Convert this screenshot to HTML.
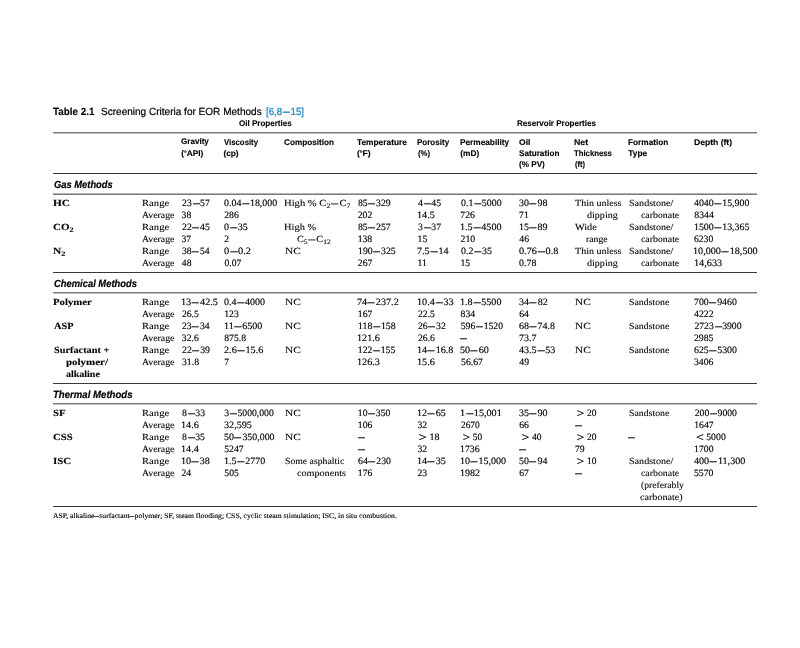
<!DOCTYPE html>
<html lang="en">
<head>
<meta charset="utf-8">
<title>Table 2.1 Screening Criteria for EOR Methods</title>
<style>
html,body{margin:0;padding:0;background:#fff;}
body{width:800px;height:648px;position:relative;overflow:hidden;}
#tbl{position:absolute;left:0;top:0;width:800px;height:648px;}
.x{text-rendering:geometricPrecision;position:absolute;white-space:nowrap;line-height:1;transform-origin:0 0;color:#000;}
.b,.n,.bb,.f{font-family:"Liberation Serif",serif;}
.bb{font-weight:bold;}
.h,.g,.t,.tb,.s{font-family:"Liberation Sans",sans-serif;}
.h,.g{font-weight:bold;}
.tb{font-weight:bold;}
.s{font-weight:bold;font-style:italic;}
.ref{color:#1585bd;}
.d{display:inline-block;width:0.86em;text-align:center;}
.d>i{display:inline-block;font-style:normal;font-weight:bold;transform:scaleX(1.36);}
sub{font-size:0.74em;vertical-align:baseline;position:relative;top:0.22em;line-height:0;}
.ln{position:absolute;}
.n{-webkit-text-stroke:0.15px currentColor;}
.t{-webkit-text-stroke:0.22px currentColor;}
.f{-webkit-text-stroke:0.14px currentColor;}
.f .d{width:0.64em;}
.f .d>i{transform:scaleX(1.2);}
.gt{display:inline-block;width:0.8em;text-align:center;}
.gt>i{display:inline-block;font-style:normal;transform:translateY(0.07em) scale(1.45,1.2);transform-origin:50% 72%;}
.b{-webkit-text-stroke:0.1px currentColor;}
.s{-webkit-text-stroke:0.2px currentColor;}
.h,.g,.tb{-webkit-text-stroke:0.12px currentColor;}
.bb{-webkit-text-stroke:0.1px currentColor;}
.dg{font-size:0.8em;position:relative;top:-0.12em;}
</style>
</head>
<body>
<div id="tbl">
<div class="ln" style="left:53px;width:704px;top:132px;height:1px;background:#7a7a7a"></div>
<div class="ln" style="left:53px;width:704px;top:133px;height:1px;background:#c4c4c4"></div>
<div class="ln" style="left:53px;width:704px;top:173px;height:1px;background:#383838"></div>
<div class="ln" style="left:53px;width:704px;top:193px;height:1px;background:#b5b5b5"></div>
<div class="ln" style="left:53px;width:704px;top:194px;height:1px;background:#7a7a7a"></div>
<div class="ln" style="left:53px;width:704px;top:272px;height:1px;background:#383838"></div>
<div class="ln" style="left:53px;width:704px;top:292px;height:1px;background:#7a7a7a"></div>
<div class="ln" style="left:53px;width:704px;top:293px;height:1px;background:#c4c4c4"></div>
<div class="ln" style="left:53px;width:704px;top:383px;height:1px;background:#383838"></div>
<div class="ln" style="left:53px;width:704px;top:403px;height:1px;background:#7a7a7a"></div>
<div class="ln" style="left:53px;width:704px;top:404px;height:1px;background:#c4c4c4"></div>
<div class="ln" style="left:53px;width:704px;top:506px;height:1px;background:#383838"></div>
<span class="x tb" style="left:52.70px;top:108px;font-size:10.4px;transform:scaleX(0.9509);">Table 2.1</span>
<span class="x t" style="left:100.80px;top:108px;font-size:10.4px;transform:scaleX(0.9659);">Screening Criteria for EOR Methods</span>
<span class="x t ref" style="left:265.71px;top:108px;font-size:10.4px;transform:scaleX(0.9322);">[6,8<span class="d"><i>–</i></span>15]</span>
<span class="x g" style="left:238.53px;top:119px;font-size:8.3px;transform:scaleX(0.9677);">Oil Properties</span>
<span class="x g" style="left:516.52px;top:119px;font-size:8.3px;transform:scaleX(0.9660);">Reservoir Properties</span>
<span class="x h" style="left:180.73px;top:137px;font-size:8.3px;transform:scaleX(0.9732);">Gravity</span>
<span class="x h" style="left:181.24px;top:149px;font-size:8.3px;">(<span class="dg">°</span>API)</span>
<span class="x h" style="left:223.76px;top:138px;font-size:8.3px;transform:scaleX(0.9383);">Viscosity</span>
<span class="x h" style="left:223.39px;top:149px;font-size:8.3px;">(cp)</span>
<span class="x h" style="left:283.67px;top:138px;font-size:8.3px;transform:scaleX(0.9866);">Composition</span>
<span class="x h" style="left:356.60px;top:138px;font-size:8.3px;transform:scaleX(1.0047);">Temperature</span>
<span class="x h" style="left:356.51px;top:149px;font-size:8.3px;transform:scaleX(1.0357);">(<span class="dg">°</span>F)</span>
<span class="x h" style="left:416.54px;top:138px;font-size:8.3px;transform:scaleX(0.9667);">Porosity</span>
<span class="x h" style="left:417.71px;top:149px;font-size:8.3px;transform:scaleX(0.9318);">(%)</span>
<span class="x h" style="left:459.71px;top:138px;font-size:8.3px;transform:scaleX(0.9959);">Permeability</span>
<span class="x h" style="left:460.27px;top:149px;font-size:8.3px;">(mD)</span>
<span class="x h" style="left:518.69px;top:138px;font-size:8.3px;transform:scaleX(1.0320);">Oil</span>
<span class="x h" style="left:518.70px;top:149px;font-size:8.3px;transform:scaleX(0.9839);">Saturation</span>
<span class="x h" style="left:518.56px;top:160px;font-size:8.3px;transform:scaleX(0.9824);">(% PV)</span>
<span class="x h" style="left:573.87px;top:138px;font-size:8.3px;transform:scaleX(1.0512);">Net</span>
<span class="x h" style="left:573.93px;top:149px;font-size:8.3px;transform:scaleX(0.9337);">Thickness</span>
<span class="x h" style="left:574.59px;top:160px;font-size:8.3px;transform:scaleX(0.9156);">(ft)</span>
<span class="x h" style="left:627.70px;top:138px;font-size:8.3px;transform:scaleX(0.9950);">Formation</span>
<span class="x h" style="left:628.35px;top:149px;font-size:8.3px;">Type</span>
<span class="x h" style="left:693.59px;top:138px;font-size:8.3px;transform:scaleX(1.0324);">Depth (ft)</span>
<span class="x s" style="left:53.51px;top:181px;font-size:10.4px;transform:scaleX(0.9007);">Gas Methods</span>
<span class="x s" style="left:53.54px;top:280px;font-size:10.4px;transform:scaleX(0.9040);">Chemical Methods</span>
<span class="x s" style="left:52.73px;top:391px;font-size:10.4px;transform:scaleX(0.9247);">Thermal Methods</span>
<span class="x bb" style="left:52.69px;top:200px;font-size:9.3px;transform:scaleX(1.2228);">HC</span>
<span class="x b" style="left:141.68px;top:200px;font-size:9.3px;transform:scaleX(1.1461);">Range</span>
<span class="x n" style="left:182.08px;top:199px;font-size:9.7px;">23<span class="d"><i>–</i></span>57</span>
<span class="x n" style="left:223.92px;top:199px;font-size:9.7px;transform:scaleX(1.0249);">0.04<span class="d"><i>–</i></span>18,000</span>
<span class="x b" style="left:283.52px;top:200px;font-size:9.3px;transform:scaleX(1.1395);">High % C<sub>2</sub><span class="d"><i>–</i></span>C<sub>7</sub></span>
<span class="x n" style="left:357.73px;top:199px;font-size:9.7px;transform:scaleX(1.0030);">85<span class="d"><i>–</i></span>329</span>
<span class="x n" style="left:417.51px;top:199px;font-size:9.7px;transform:scaleX(1.0081);">4<span class="d"><i>–</i></span>45</span>
<span class="x n" style="left:460.73px;top:199px;font-size:9.7px;transform:scaleX(1.0196);">0.1<span class="d"><i>–</i></span>5000</span>
<span class="x n" style="left:518.72px;top:199px;font-size:9.7px;transform:scaleX(1.0242);">30<span class="d"><i>–</i></span>98</span>
<span class="x b" style="left:574.52px;top:200px;font-size:9.3px;transform:scaleX(1.0788);">Thin unless</span>
<span class="x b" style="left:628.69px;top:200px;font-size:9.3px;transform:scaleX(1.0856);">Sandstone/</span>
<span class="x n" style="left:693.70px;top:199px;font-size:9.7px;transform:scaleX(1.0185);">4040<span class="d"><i>–</i></span>15,900</span>
<span class="x b" style="left:141.59px;top:212px;font-size:9.3px;transform:scaleX(1.0545);">Average</span>
<span class="x n" style="left:181.62px;top:211px;font-size:9.7px;">38</span>
<span class="x n" style="left:224.22px;top:211px;font-size:9.7px;">286</span>
<span class="x n" style="left:357.73px;top:211px;font-size:9.7px;">202</span>
<span class="x n" style="left:416.67px;top:211px;font-size:9.7px;transform:scaleX(1.0530);">14.5</span>
<span class="x n" style="left:460.29px;top:211px;font-size:9.7px;">726</span>
<span class="x n" style="left:519.08px;top:211px;font-size:9.7px;">71</span>
<span class="x b" style="left:586.61px;top:212px;font-size:9.3px;transform:scaleX(1.0827);">dipping</span>
<span class="x b" style="left:640.51px;top:212px;font-size:9.3px;transform:scaleX(1.0584);">carbonate</span>
<span class="x n" style="left:694.37px;top:211px;font-size:9.7px;">8344</span>
<span class="x bb" style="left:52.65px;top:224px;font-size:9.3px;transform:scaleX(1.1834);">CO<sub>2</sub></span>
<span class="x b" style="left:141.68px;top:224px;font-size:9.3px;transform:scaleX(1.1461);">Range</span>
<span class="x n" style="left:182.04px;top:223px;font-size:9.7px;">22<span class="d"><i>–</i></span>45</span>
<span class="x n" style="left:223.90px;top:223px;font-size:9.7px;transform:scaleX(1.0395);">0<span class="d"><i>–</i></span>35</span>
<span class="x b" style="left:283.50px;top:224px;font-size:9.3px;transform:scaleX(1.1206);">High %</span>
<span class="x n" style="left:357.58px;top:223px;font-size:9.7px;transform:scaleX(1.0051);">85<span class="d"><i>–</i></span>257</span>
<span class="x n" style="left:417.67px;top:223px;font-size:9.7px;transform:scaleX(1.0061);">3<span class="d"><i>–</i></span>37</span>
<span class="x n" style="left:460.03px;top:223px;font-size:9.7px;transform:scaleX(1.0416);">1.5<span class="d"><i>–</i></span>4500</span>
<span class="x n" style="left:518.50px;top:223px;font-size:9.7px;transform:scaleX(1.0328);">15<span class="d"><i>–</i></span>89</span>
<span class="x b" style="left:574.73px;top:224px;font-size:9.3px;transform:scaleX(1.1011);">Wide</span>
<span class="x b" style="left:628.69px;top:224px;font-size:9.3px;transform:scaleX(1.0856);">Sandstone/</span>
<span class="x n" style="left:693.62px;top:223px;font-size:9.7px;transform:scaleX(1.0185);">1500<span class="d"><i>–</i></span>13,365</span>
<span class="x b" style="left:141.59px;top:236px;font-size:9.3px;transform:scaleX(1.0545);">Average</span>
<span class="x n" style="left:181.45px;top:235px;font-size:9.7px;">37</span>
<span class="x n" style="left:224.22px;top:235px;font-size:9.7px;">2</span>
<span class="x b" style="left:296.66px;top:236px;font-size:9.3px;transform:scaleX(1.0991);">C<sub>5</sub><span class="d"><i>–</i></span>C<sub>12</sub></span>
<span class="x n" style="left:357.66px;top:235px;font-size:9.7px;">138</span>
<span class="x n" style="left:417.55px;top:235px;font-size:9.7px;">15</span>
<span class="x n" style="left:460.59px;top:235px;font-size:9.7px;">210</span>
<span class="x n" style="left:519.34px;top:235px;font-size:9.7px;">46</span>
<span class="x b" style="left:586.17px;top:236px;font-size:9.3px;transform:scaleX(1.0513);">range</span>
<span class="x b" style="left:640.51px;top:236px;font-size:9.3px;transform:scaleX(1.0584);">carbonate</span>
<span class="x n" style="left:693.86px;top:235px;font-size:9.7px;transform:scaleX(0.9934);">6230</span>
<span class="x bb" style="left:52.55px;top:248px;font-size:9.3px;transform:scaleX(1.2217);">N<sub>2</sub></span>
<span class="x b" style="left:141.68px;top:248px;font-size:9.3px;transform:scaleX(1.1461);">Range</span>
<span class="x n" style="left:181.62px;top:247px;font-size:9.7px;transform:scaleX(0.9935);">38<span class="d"><i>–</i></span>54</span>
<span class="x n" style="left:223.77px;top:247px;font-size:9.7px;transform:scaleX(1.0667);">0<span class="d"><i>–</i></span>0.2</span>
<span class="x b" style="left:284.60px;top:248px;font-size:9.3px;transform:scaleX(1.2226);">NC</span>
<span class="x n" style="left:357.65px;top:247px;font-size:9.7px;transform:scaleX(1.0067);">190<span class="d"><i>–</i></span>325</span>
<span class="x n" style="left:416.84px;top:247px;font-size:9.7px;transform:scaleX(1.0489);">7.5<span class="d"><i>–</i></span>14</span>
<span class="x n" style="left:460.58px;top:247px;font-size:9.7px;transform:scaleX(1.0242);">0.2<span class="d"><i>–</i></span>35</span>
<span class="x n" style="left:518.68px;top:247px;font-size:9.7px;transform:scaleX(1.0507);">0.76<span class="d"><i>–</i></span>0.8</span>
<span class="x b" style="left:574.52px;top:248px;font-size:9.3px;transform:scaleX(1.0788);">Thin unless</span>
<span class="x b" style="left:628.69px;top:248px;font-size:9.3px;transform:scaleX(1.0856);">Sandstone/</span>
<span class="x n" style="left:692.83px;top:247px;font-size:9.7px;transform:scaleX(1.0488);">10,000<span class="d"><i>–</i></span>18,500</span>
<span class="x b" style="left:141.59px;top:260px;font-size:9.3px;transform:scaleX(1.0545);">Average</span>
<span class="x n" style="left:181.86px;top:259px;font-size:9.7px;">48</span>
<span class="x n" style="left:224.42px;top:259px;font-size:9.7px;">0.07</span>
<span class="x n" style="left:357.82px;top:259px;font-size:9.7px;">267</span>
<span class="x n" style="left:417.41px;top:259px;font-size:9.7px;">11</span>
<span class="x n" style="left:460.44px;top:259px;font-size:9.7px;">15</span>
<span class="x n" style="left:518.73px;top:259px;font-size:9.7px;transform:scaleX(1.0237);">0.78</span>
<span class="x b" style="left:586.61px;top:260px;font-size:9.3px;transform:scaleX(1.0827);">dipping</span>
<span class="x b" style="left:640.51px;top:260px;font-size:9.3px;transform:scaleX(1.0584);">carbonate</span>
<span class="x n" style="left:693.64px;top:259px;font-size:9.7px;transform:scaleX(1.0569);">14,633</span>
<span class="x bb" style="left:52.73px;top:299px;font-size:9.3px;transform:scaleX(1.1580);">Polymer</span>
<span class="x b" style="left:141.68px;top:299px;font-size:9.3px;transform:scaleX(1.1461);">Range</span>
<span class="x n" style="left:180.77px;top:298px;font-size:9.7px;transform:scaleX(1.0579);">13<span class="d"><i>–</i></span>42.5</span>
<span class="x n" style="left:223.87px;top:298px;font-size:9.7px;transform:scaleX(1.0298);">0.4<span class="d"><i>–</i></span>4000</span>
<span class="x b" style="left:284.60px;top:299px;font-size:9.3px;transform:scaleX(1.2226);">NC</span>
<span class="x n" style="left:356.69px;top:298px;font-size:9.7px;transform:scaleX(1.0477);">74<span class="d"><i>–</i></span>237.2</span>
<span class="x n" style="left:416.74px;top:298px;font-size:9.7px;transform:scaleX(1.0489);">10.4<span class="d"><i>–</i></span>33</span>
<span class="x n" style="left:460.04px;top:298px;font-size:9.7px;transform:scaleX(1.0411);">1.8<span class="d"><i>–</i></span>5500</span>
<span class="x n" style="left:518.80px;top:298px;font-size:9.7px;transform:scaleX(1.0362);">34<span class="d"><i>–</i></span>82</span>
<span class="x b" style="left:574.60px;top:299px;font-size:9.3px;transform:scaleX(1.2226);">NC</span>
<span class="x b" style="left:628.66px;top:299px;font-size:9.3px;transform:scaleX(1.0558);">Sandstone</span>
<span class="x n" style="left:693.84px;top:298px;font-size:9.7px;transform:scaleX(1.0136);">700<span class="d"><i>–</i></span>9460</span>
<span class="x b" style="left:141.59px;top:311px;font-size:9.3px;transform:scaleX(1.0545);">Average</span>
<span class="x n" style="left:181.60px;top:310px;font-size:9.7px;transform:scaleX(0.9933);">26.5</span>
<span class="x n" style="left:224.24px;top:310px;font-size:9.7px;">123</span>
<span class="x n" style="left:357.79px;top:310px;font-size:9.7px;">167</span>
<span class="x n" style="left:417.57px;top:310px;font-size:9.7px;transform:scaleX(0.9936);">22.5</span>
<span class="x n" style="left:460.58px;top:310px;font-size:9.7px;">834</span>
<span class="x n" style="left:519.24px;top:310px;font-size:9.7px;">64</span>
<span class="x n" style="left:693.74px;top:310px;font-size:9.7px;transform:scaleX(1.0158);">4222</span>
<span class="x bb" style="left:53.67px;top:323px;font-size:9.3px;transform:scaleX(1.1081);">ASP</span>
<span class="x b" style="left:141.68px;top:323px;font-size:9.3px;transform:scaleX(1.1461);">Range</span>
<span class="x n" style="left:181.53px;top:322px;font-size:9.7px;transform:scaleX(0.9961);">23<span class="d"><i>–</i></span>34</span>
<span class="x n" style="left:223.69px;top:322px;font-size:9.7px;transform:scaleX(1.0350);">11<span class="d"><i>–</i></span>6500</span>
<span class="x b" style="left:284.60px;top:323px;font-size:9.3px;transform:scaleX(1.2226);">NC</span>
<span class="x n" style="left:357.58px;top:322px;font-size:9.7px;transform:scaleX(1.0171);">118<span class="d"><i>–</i></span>158</span>
<span class="x n" style="left:417.70px;top:322px;font-size:9.7px;transform:scaleX(1.0035);">26<span class="d"><i>–</i></span>32</span>
<span class="x n" style="left:460.77px;top:322px;font-size:9.7px;">596<span class="d"><i>–</i></span>1520</span>
<span class="x n" style="left:518.73px;top:322px;font-size:9.7px;transform:scaleX(1.0325);">68<span class="d"><i>–</i></span>74.8</span>
<span class="x b" style="left:574.60px;top:323px;font-size:9.3px;transform:scaleX(1.2226);">NC</span>
<span class="x b" style="left:628.66px;top:323px;font-size:9.3px;transform:scaleX(1.0558);">Sandstone</span>
<span class="x n" style="left:694.43px;top:322px;font-size:9.7px;">2723<span class="d"><i>–</i></span>3900</span>
<span class="x b" style="left:141.59px;top:335px;font-size:9.3px;transform:scaleX(1.0545);">Average</span>
<span class="x n" style="left:181.83px;top:334px;font-size:9.7px;">32.6</span>
<span class="x n" style="left:224.28px;top:334px;font-size:9.7px;">875.8</span>
<span class="x n" style="left:356.54px;top:334px;font-size:9.7px;transform:scaleX(1.0455);">121.6</span>
<span class="x n" style="left:417.51px;top:334px;font-size:9.7px;transform:scaleX(0.9952);">26.6</span>
<span class="x n" style="left:458.81px;top:334px;font-size:9.7px;"><span class="d"><i>–</i></span></span>
<span class="x n" style="left:518.69px;top:334px;font-size:9.7px;transform:scaleX(1.0379);">73.7</span>
<span class="x n" style="left:693.72px;top:334px;font-size:9.7px;transform:scaleX(1.0044);">2985</span>
<span class="x bb" style="left:53.69px;top:347px;font-size:9.3px;transform:scaleX(1.1065);">Surfactant +</span>
<span class="x b" style="left:141.68px;top:347px;font-size:9.3px;transform:scaleX(1.1461);">Range</span>
<span class="x n" style="left:181.72px;top:346px;font-size:9.7px;transform:scaleX(1.0091);">22<span class="d"><i>–</i></span>39</span>
<span class="x n" style="left:223.55px;top:346px;font-size:9.7px;transform:scaleX(1.0516);">2.6<span class="d"><i>–</i></span>15.6</span>
<span class="x b" style="left:284.60px;top:347px;font-size:9.3px;transform:scaleX(1.2226);">NC</span>
<span class="x n" style="left:357.87px;top:346px;font-size:9.7px;">122<span class="d"><i>–</i></span>155</span>
<span class="x n" style="left:416.67px;top:346px;font-size:9.7px;transform:scaleX(1.0404);">14<span class="d"><i>–</i></span>16.8</span>
<span class="x n" style="left:459.73px;top:346px;font-size:9.7px;transform:scaleX(1.0432);">50<span class="d"><i>–</i></span>60</span>
<span class="x n" style="left:518.54px;top:346px;font-size:9.7px;transform:scaleX(1.0401);">43.5<span class="d"><i>–</i></span>53</span>
<span class="x b" style="left:574.60px;top:347px;font-size:9.3px;transform:scaleX(1.2226);">NC</span>
<span class="x b" style="left:628.66px;top:347px;font-size:9.3px;transform:scaleX(1.0558);">Sandstone</span>
<span class="x n" style="left:693.77px;top:346px;font-size:9.7px;transform:scaleX(1.0169);">625<span class="d"><i>–</i></span>5300</span>
<span class="x bb" style="left:65.59px;top:359px;font-size:9.3px;transform:scaleX(1.1772);">polymer/</span>
<span class="x b" style="left:141.59px;top:359px;font-size:9.3px;transform:scaleX(1.0545);">Average</span>
<span class="x n" style="left:181.59px;top:358px;font-size:9.7px;transform:scaleX(1.0048);">31.8</span>
<span class="x n" style="left:224.13px;top:358px;font-size:9.7px;">7</span>
<span class="x n" style="left:356.62px;top:358px;font-size:9.7px;transform:scaleX(1.0517);">126.3</span>
<span class="x n" style="left:416.70px;top:358px;font-size:9.7px;transform:scaleX(1.0508);">15.6</span>
<span class="x n" style="left:461.06px;top:358px;font-size:9.7px;">56.67</span>
<span class="x n" style="left:519.34px;top:358px;font-size:9.7px;">49</span>
<span class="x n" style="left:693.72px;top:358px;font-size:9.7px;transform:scaleX(0.9970);">3406</span>
<span class="x bb" style="left:65.67px;top:371px;font-size:9.3px;transform:scaleX(1.0726);">alkaline</span>
<span class="x bb" style="left:52.62px;top:410px;font-size:9.3px;transform:scaleX(1.1748);">SF</span>
<span class="x b" style="left:141.68px;top:410px;font-size:9.3px;transform:scaleX(1.1461);">Range</span>
<span class="x n" style="left:181.72px;top:409px;font-size:9.7px;transform:scaleX(1.0083);">8<span class="d"><i>–</i></span>33</span>
<span class="x n" style="left:224.30px;top:409px;font-size:9.7px;">3<span class="d"><i>–</i></span>5000,000</span>
<span class="x b" style="left:284.60px;top:410px;font-size:9.3px;transform:scaleX(1.2226);">NC</span>
<span class="x n" style="left:357.85px;top:409px;font-size:9.7px;">10<span class="d"><i>–</i></span>350</span>
<span class="x n" style="left:416.51px;top:409px;font-size:9.7px;transform:scaleX(1.0418);">12<span class="d"><i>–</i></span>65</span>
<span class="x n" style="left:459.75px;top:409px;font-size:9.7px;transform:scaleX(1.0490);">1<span class="d"><i>–</i></span>15,001</span>
<span class="x n" style="left:518.50px;top:409px;font-size:9.7px;transform:scaleX(1.0319);">35<span class="d"><i>–</i></span>90</span>
<span class="x n" style="left:576.58px;top:409px;font-size:9.7px;transform:scaleX(0.9814);"><span class="gt"><i>&gt;</i></span> 20</span>
<span class="x b" style="left:628.66px;top:410px;font-size:9.3px;transform:scaleX(1.0558);">Sandstone</span>
<span class="x n" style="left:694.73px;top:409px;font-size:9.7px;">200<span class="d"><i>–</i></span>9000</span>
<span class="x b" style="left:141.59px;top:422px;font-size:9.3px;transform:scaleX(1.0545);">Average</span>
<span class="x n" style="left:180.67px;top:421px;font-size:9.7px;transform:scaleX(1.0516);">14.6</span>
<span class="x n" style="left:223.67px;top:421px;font-size:9.7px;transform:scaleX(1.0478);">32,595</span>
<span class="x n" style="left:357.85px;top:421px;font-size:9.7px;">106</span>
<span class="x n" style="left:417.52px;top:421px;font-size:9.7px;">32</span>
<span class="x n" style="left:460.66px;top:421px;font-size:9.7px;transform:scaleX(0.9628);">2670</span>
<span class="x n" style="left:519.16px;top:421px;font-size:9.7px;">66</span>
<span class="x n" style="left:573.81px;top:421px;font-size:9.7px;"><span class="d"><i>–</i></span></span>
<span class="x n" style="left:694.24px;top:421px;font-size:9.7px;">1647</span>
<span class="x bb" style="left:52.74px;top:434px;font-size:9.3px;transform:scaleX(1.1581);">CSS</span>
<span class="x b" style="left:141.68px;top:434px;font-size:9.3px;transform:scaleX(1.1461);">Range</span>
<span class="x n" style="left:181.72px;top:433px;font-size:9.7px;transform:scaleX(1.0052);">8<span class="d"><i>–</i></span>35</span>
<span class="x n" style="left:223.60px;top:433px;font-size:9.7px;transform:scaleX(1.0211);">50<span class="d"><i>–</i></span>350,000</span>
<span class="x b" style="left:284.60px;top:434px;font-size:9.3px;transform:scaleX(1.2226);">NC</span>
<span class="x n" style="left:356.81px;top:433px;font-size:9.7px;"><span class="d"><i>–</i></span></span>
<span class="x n" style="left:418.74px;top:433px;font-size:9.7px;transform:scaleX(1.0371);"><span class="gt"><i>&gt;</i></span> 18</span>
<span class="x n" style="left:462.64px;top:433px;font-size:9.7px;transform:scaleX(0.9590);"><span class="gt"><i>&gt;</i></span> 50</span>
<span class="x n" style="left:521.70px;top:433px;font-size:9.7px;transform:scaleX(0.9786);"><span class="gt"><i>&gt;</i></span> 40</span>
<span class="x n" style="left:576.58px;top:433px;font-size:9.7px;transform:scaleX(0.9814);"><span class="gt"><i>&gt;</i></span> 20</span>
<span class="x n" style="left:627.06px;top:433px;font-size:9.7px;"><span class="d"><i>–</i></span></span>
<span class="x n" style="left:695.66px;top:433px;font-size:9.7px;transform:scaleX(1.0070);"><span class="gt"><i>&lt;</i></span> 5000</span>
<span class="x b" style="left:141.59px;top:446px;font-size:9.3px;transform:scaleX(1.0545);">Average</span>
<span class="x n" style="left:180.70px;top:445px;font-size:9.7px;transform:scaleX(1.0462);">14.4</span>
<span class="x n" style="left:224.20px;top:445px;font-size:9.7px;">5247</span>
<span class="x n" style="left:356.81px;top:445px;font-size:9.7px;"><span class="d"><i>–</i></span></span>
<span class="x n" style="left:417.52px;top:445px;font-size:9.7px;">32</span>
<span class="x n" style="left:459.70px;top:445px;font-size:9.7px;transform:scaleX(1.0133);">1736</span>
<span class="x n" style="left:517.81px;top:445px;font-size:9.7px;"><span class="d"><i>–</i></span></span>
<span class="x n" style="left:574.94px;top:445px;font-size:9.7px;">79</span>
<span class="x n" style="left:694.12px;top:445px;font-size:9.7px;">1700</span>
<span class="x bb" style="left:52.52px;top:458px;font-size:9.3px;transform:scaleX(1.1754);">ISC</span>
<span class="x b" style="left:141.68px;top:458px;font-size:9.3px;transform:scaleX(1.1461);">Range</span>
<span class="x n" style="left:180.79px;top:457px;font-size:9.7px;transform:scaleX(1.0422);">10<span class="d"><i>–</i></span>38</span>
<span class="x n" style="left:223.67px;top:457px;font-size:9.7px;transform:scaleX(1.0376);">1.5<span class="d"><i>–</i></span>2770</span>
<span class="x b" style="left:284.66px;top:458px;font-size:9.3px;transform:scaleX(1.0477);">Some asphaltic</span>
<span class="x n" style="left:357.64px;top:457px;font-size:9.7px;transform:scaleX(1.0122);">64<span class="d"><i>–</i></span>230</span>
<span class="x n" style="left:416.73px;top:457px;font-size:9.7px;transform:scaleX(1.0443);">14<span class="d"><i>–</i></span>35</span>
<span class="x n" style="left:459.78px;top:457px;font-size:9.7px;transform:scaleX(1.0329);">10<span class="d"><i>–</i></span>15,000</span>
<span class="x n" style="left:518.60px;top:457px;font-size:9.7px;transform:scaleX(1.0226);">50<span class="d"><i>–</i></span>94</span>
<span class="x n" style="left:576.53px;top:457px;font-size:9.7px;transform:scaleX(0.9740);"><span class="gt"><i>&gt;</i></span> 10</span>
<span class="x b" style="left:628.69px;top:458px;font-size:9.3px;transform:scaleX(1.0856);">Sandstone/</span>
<span class="x n" style="left:693.72px;top:457px;font-size:9.7px;transform:scaleX(1.0445);">400<span class="d"><i>–</i></span>11,300</span>
<span class="x b" style="left:141.59px;top:470px;font-size:9.3px;transform:scaleX(1.0545);">Average</span>
<span class="x n" style="left:181.52px;top:469px;font-size:9.7px;">24</span>
<span class="x n" style="left:224.36px;top:469px;font-size:9.7px;">505</span>
<span class="x b" style="left:296.59px;top:470px;font-size:9.3px;transform:scaleX(1.0914);">components</span>
<span class="x n" style="left:357.87px;top:469px;font-size:9.7px;">176</span>
<span class="x n" style="left:417.40px;top:469px;font-size:9.7px;">23</span>
<span class="x n" style="left:460.02px;top:469px;font-size:9.7px;transform:scaleX(1.0347);">1982</span>
<span class="x n" style="left:519.16px;top:469px;font-size:9.7px;">67</span>
<span class="x n" style="left:573.81px;top:469px;font-size:9.7px;"><span class="d"><i>–</i></span></span>
<span class="x b" style="left:640.51px;top:470px;font-size:9.3px;transform:scaleX(1.0584);">carbonate</span>
<span class="x n" style="left:693.74px;top:469px;font-size:9.7px;transform:scaleX(1.0059);">5570</span>
<span class="x b" style="left:640.90px;top:482px;font-size:9.3px;transform:scaleX(1.0390);">(preferably</span>
<span class="x b" style="left:639.68px;top:494px;font-size:9.3px;transform:scaleX(1.0871);">carbonate)</span>
<span class="x f" style="left:52.65px;top:513px;font-size:7.2px;transform:scaleX(1.0695);">ASP, alkaline<span class="d"><i>–</i></span>surfactant<span class="d"><i>–</i></span>polymer; SF, steam flooding; CSS, cyclic steam stimulation; ISC, in situ combustion.</span>
</div>
</body>
</html>
